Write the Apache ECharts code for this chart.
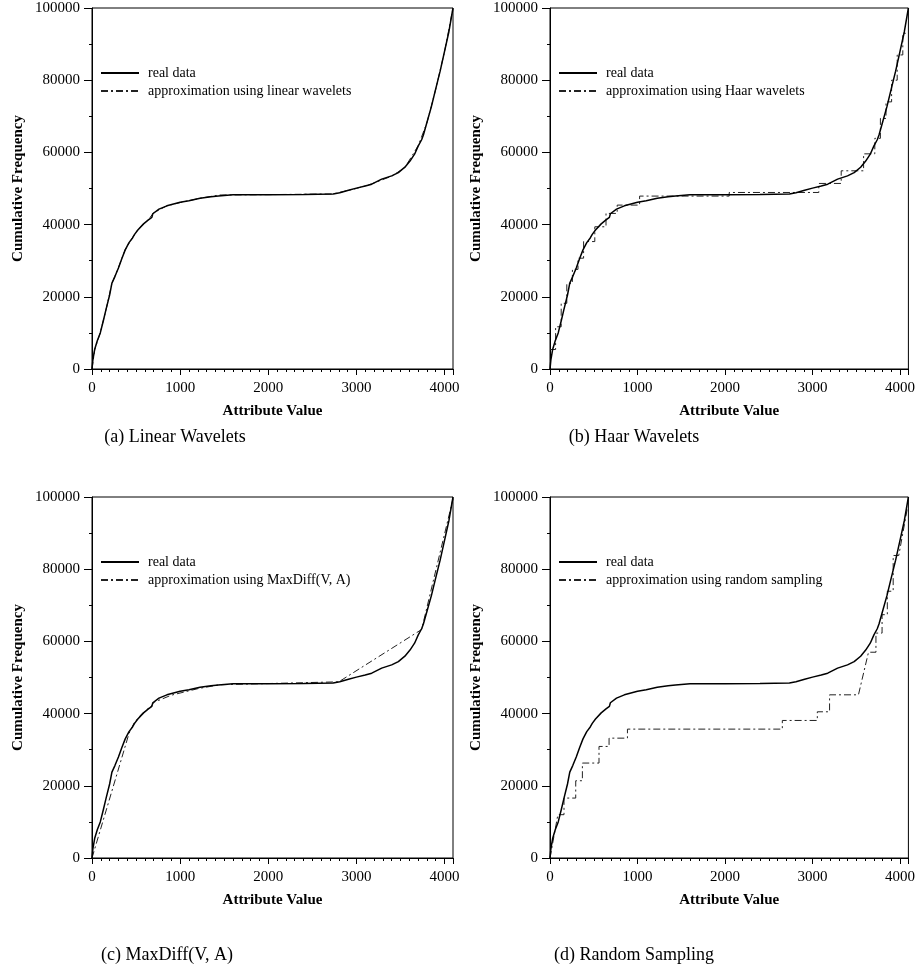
<!DOCTYPE html>
<html>
<head>
<meta charset="utf-8">
<script src="https://cdn.jsdelivr.net/npm/echarts@6/dist/echarts.min.js"></script>
<style>
html,body{margin:0;padding:0;background:#fff;}
#c{width:918px;height:971px;}
</style>
</head>
<body>
<div id="c"></div>
<script>
// ---- data ----
var realX = [0,10,30,60,94,130,160,200,226,260,300,340,377,420,460,483,520,585,640,679,690,700,760,850,1000,1100,1226,1350,1434,1445,1600,2000,2400,2736,2811,2910,3000,3100,3174,3287,3400,3476,3550,3608,3660,3702,3740,3760,3800,3850,3900,3950,4000,4050,4096];
var realY = [0,2500,5400,7800,10000,13500,16600,20500,23800,25600,28000,30700,33000,35000,36300,37300,38500,40200,41300,42000,43000,43300,44300,45200,46200,46600,47300,47700,47900,48200,48300,48300,48350,48450,48800,49500,50100,50700,51200,52600,53500,54400,55900,57600,59500,61800,63500,64800,68300,72600,77600,82500,88000,93500,100000];

var linX = [0,30,94,160,226,300,377,460,520,640,700,850,1000,1226,1445,2000,2736,3000,3174,3400,3550,3702,3800,3900,4000,4096];
var linY = [0,5300,10100,16500,23700,28100,33100,36400,38600,41400,43300,45200,46100,47300,48200,48300,48500,50000,51300,53400,55800,61900,68200,77500,87900,100000];

var haarBounds = [0,64,128,192,256,320,384,512,640,768,1024,2048,3072,3328,3584,3712,3776,3840,3904,3968,4032,4096];
var haarLevels = [5400,11700,18200,23700,27600,30700,35300,39400,43100,45400,47900,48900,51400,54900,59600,63900,69400,74000,80000,87000,93000];

var mdX = [0,420,480,560,680,700,900,1200,1450,2800,3740,4096];
var mdY = [0,34500,37500,39800,42300,43100,45100,46900,48000,48800,63300,99500];

var rsX = [0,90,160,160,294,294,370,370,560,560,675,675,885,885,2655,2655,3055,3055,3195,3195,3525,3640,3725,3725,3795,3795,3855,3855,3922,3922,3986,4085];
var rsY = [0,12000,12000,16600,16600,21400,21400,26300,26300,30900,30900,33200,33200,35700,35700,38100,38100,40500,40500,45200,45200,57000,57000,62300,62300,67400,67400,73900,73900,83800,83800,97000];

var xTickStep = 1000, yTickStep = 20000;
var xMax = 4096, yMax = 100000;

var approxNames = ['approximation using linear wavelets','approximation using Haar wavelets','approximation using MaxDiff(V, A)','approximation using random sampling'];
var captions = ['(a) Linear Wavelets','(b) Haar Wavelets','(c) MaxDiff(V, A)','(d) Random Sampling'];

function zip(a,b){ return a.map(function(v,i){return [v,b[i]];}); }
function stepPts(bounds, levels){
  var p=[];
  for (var i=0;i<levels.length;i++){ p.push([bounds[i],levels[i]]); p.push([bounds[i+1],levels[i]]); }
  return p;
}

var approxData = [zip(linX,linY), stepPts(haarBounds,haarLevels), zip(mdX,mdY), zip(rsX,rsY)];

// ---- layout ----
var SERIF = '"Liberation Serif","Times New Roman",serif';
var grids = [
  {left:92, top:8, width:361, height:361},
  {left:550, top:8, width:361, height:361},
  {left:92, top:497, width:361, height:361},
  {left:550, top:497, width:361, height:361}
];
var capPos = [[175,437],[634,437],[167,955],[634,955]];

function plain(v){ return String(v); }

var option = {
  animation:false,
  backgroundColor:'#fff',
  grid: grids.map(function(g){ return Object.assign({show:true, borderColor:'#000', borderWidth:1, backgroundColor:'transparent'}, g); }),
  xAxis: grids.map(function(g,i){ return {
    type:'value', gridIndex:i, min:0, max:xMax, interval:xTickStep,
    name:'Attribute Value', nameLocation:'middle', nameGap:35,
    nameTextStyle:{fontFamily:SERIF, fontWeight:'bold', fontSize:15, color:'#000'},
    axisLine:{show:true, lineStyle:{color:'#000', width:1}},
    axisTick:{show:true, length:6, lineStyle:{color:'#000'}},
    minorTick:{show:true, splitNumber:10, length:3, lineStyle:{color:'#000'}},
    axisLabel:{fontFamily:SERIF, fontSize:15, color:'#000', margin:12, showMaxLabel:false, formatter:plain},
    splitLine:{show:false}
  };}),
  yAxis: grids.map(function(g,i){ return {
    type:'value', gridIndex:i, min:0, max:yMax, interval:yTickStep,
    name:'Cumulative Frequency', nameLocation:'middle', nameGap:66,
    nameTextStyle:{fontFamily:SERIF, fontWeight:'bold', fontSize:15, color:'#000'},
    axisLine:{show:true, lineStyle:{color:'#000', width:1}},
    axisTick:{show:true, length:8, lineStyle:{color:'#000'}},
    minorTick:{show:true, splitNumber:2, length:3, lineStyle:{color:'#000'}},
    axisLabel:{fontFamily:SERIF, fontSize:15, color:'#000', margin:12, formatter:plain},
    splitLine:{show:false}
  };}),
  legend: grids.map(function(g,i){ return {
    orient:'vertical', left:g.left+8, top:g.top+58, padding:0, itemWidth:38, itemHeight:14, itemGap:4,
    selectedMode:false, data:['real data', approxNames[i]],
    itemStyle:{opacity:0},
    textStyle:{fontFamily:SERIF, fontSize:14, color:'#000', padding:[0,0,0,4]}
  };}),
  series: [],
  graphic: captions.map(function(t,i){ return {
    type:'text', x:capPos[i][0], y:capPos[i][1],
    style:{text:t, align:'center', verticalAlign:'middle', font:'18px '+SERIF, fill:'#000'}
  };})
};

for (var i=0;i<4;i++){
  option.series.push({
    type:'line', name:'real data', xAxisIndex:i, yAxisIndex:i, symbol:'none',
    data: zip(realX, realY), itemStyle:{color:'#000'}, lineStyle:{color:'#000', width:1.5}, z:3
  });
  option.series.push({
    type:'line', name:approxNames[i], xAxisIndex:i, yAxisIndex:i, symbol:'none',
    data: approxData[i], itemStyle:{color:'#222'}, lineStyle:{color:'#222', width:1, type:[7,3,2,3]}, z:2
  });
}

var chart = echarts.init(document.getElementById('c'), null, {renderer:'canvas'});
chart.setOption(option);
</script>
</body>
</html>
